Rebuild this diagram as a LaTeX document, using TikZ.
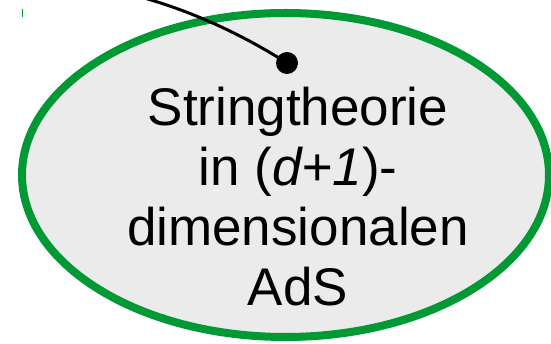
\documentclass[tikz,border=0pt]{standalone}
\usepackage{fontspec}
\setmainfont{Liberation Sans}
\usetikzlibrary{shapes.geometric}
\definecolor{ringgreen}{RGB}{0,153,51}
\definecolor{fillgray}{RGB}{235,235,235}
\begin{document}
\begin{tikzpicture}[x=1pt,y=-1pt,
  ring/.style={ellipse, draw=ringgreen, fill=fillgray, line width=8pt,
    minimum width=527pt, minimum height=324pt, inner sep=0pt},
  lbl/.style={font=\fontsize{53}{60}\selectfont, align=center, inner sep=0pt},
  link/.style={line width=3pt, draw=black},
  knot/.style={circle, fill=black, minimum size=22pt, inner sep=0pt}]
\useasboundingbox (0,0) rectangle (551,344);
\node[ring] (ads) at (285.5,175) {};
\node[lbl] (txt) at (298,196.4) {Stringtheorie\\in (\textit{d+1})-\\dimensionalen\\AdS};
\node[knot] (dot) at (287,63) {};
\coordinate (src) at (120,-8);
\draw[link] (src) .. controls (180,5) and (240,33) .. (dot.center);
\draw[ringgreen, line width=1pt] (22,9) -- (22,17);
\end{tikzpicture}
\end{document}
